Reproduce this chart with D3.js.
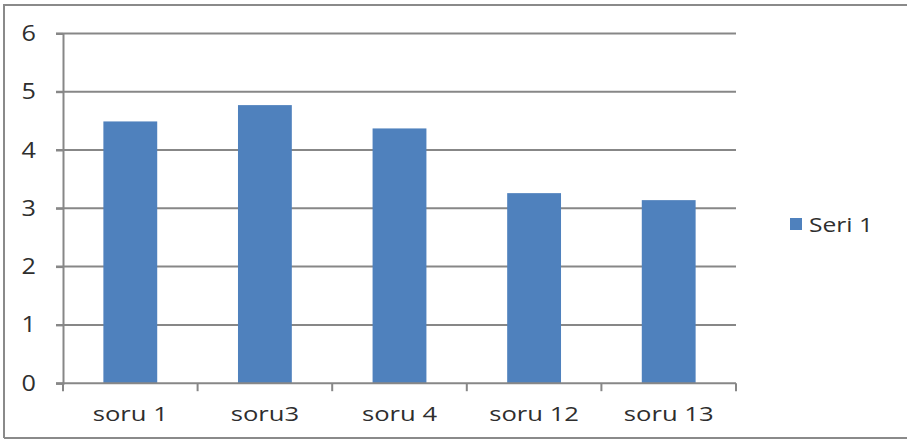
<!DOCTYPE html>
<html><head><meta charset="utf-8">
<script src="https://cdn.jsdelivr.net/npm/d3@7"></script>
<style>body{margin:0;background:#fff}svg{display:block}</style>
</head><body>
<script>
const categories = ["soru 1", "soru3", "soru 4", "soru 12", "soru 13"];
const values = [4.49, 4.77, 4.37, 3.26, 3.14];
const yTicks = [0, 1, 2, 3, 4, 5, 6];
const seriesName = "Seri 1";

const W = 907, H = 442;
const svg = d3.select("body").append("svg").attr("width", W).attr("height", H);

// outer frame
svg.append("path").attr("d", "M4,438 L4,5 L907,5 M4,438 L907,438")
  .attr("fill", "none").attr("stroke", "#8a8a8a").attr("stroke-width", 2);

const m = {left: 63, right: 736, top: 33.4, bottom: 383.2};
const x = d3.scaleBand().domain(categories).range([m.left, m.right]).paddingInner(0.6).paddingOuter(0.3);
const y = d3.scaleLinear().domain([0, 6]).range([m.bottom, m.top]);

const gridColor = "#878787";
const txtColor = "#2e2e2e";
const font = "'Open Sans', sans-serif";

// gridlines
svg.append("g").selectAll("line").data(yTicks.filter(d => d > 0)).join("line")
  .attr("x1", m.left - 7).attr("x2", m.right)
  .attr("y1", d => y(d)).attr("y2", d => y(d))
  .attr("stroke", gridColor).attr("stroke-width", 2);

// bars
svg.append("g").selectAll("rect").data(values).join("rect")
  .attr("x", (d, i) => x(categories[i]))
  .attr("width", x.bandwidth())
  .attr("y", d => y(d))
  .attr("height", d => y(0) - y(d))
  .attr("fill", "#4f81bd");

// y axis
const yAxis = svg.append("g").attr("transform", `translate(${m.left},0)`)
  .call(d3.axisLeft(y).tickValues(yTicks).tickSize(7).tickFormat(""));
yAxis.select(".domain").attr("stroke", gridColor).attr("stroke-width", 2);
yAxis.selectAll(".tick line").attr("stroke", gridColor).attr("stroke-width", 2);
svg.append("g").selectAll("text").data(yTicks).join("text")
  .attr("transform", d => `translate(36,${y(d) + 7.5}) scale(1.2,1)`)
  .attr("text-anchor", "end")
  .attr("fill", txtColor).style("font-family", font).style("font-size", "21px")
  .text(d => d3.format("d")(d));

// x axis
const step = x.step();
const boundaries = d3.range(categories.length + 1).map(i => m.left + i * step);
svg.append("line").attr("x1", m.left - 7).attr("x2", m.right)
  .attr("y1", y(0)).attr("y2", y(0)).attr("stroke", gridColor).attr("stroke-width", 2);
svg.append("g").selectAll("line").data(boundaries).join("line")
  .attr("x1", d => d).attr("x2", d => d)
  .attr("y1", y(0)).attr("y2", y(0) + 8)
  .attr("stroke", gridColor).attr("stroke-width", 2);
svg.append("g").selectAll("text").data(categories).join("text")
  .attr("transform", d => `translate(${x(d) + x.bandwidth() / 2},421) scale(1.28,1)`)
  .attr("text-anchor", "middle")
  .attr("fill", txtColor).style("font-family", font).style("font-size", "20px")
  .text(d => d);

// legend
const lg = svg.append("g").attr("transform", "translate(790,218)");
lg.append("rect").attr("width", 12).attr("height", 12).attr("fill", "#4f81bd");
lg.append("text").attr("transform", "translate(19,14) scale(1.23,1)")
  .attr("fill", txtColor).style("font-family", font).style("font-size", "20px")
  .text(seriesName);
</script>
</body></html>
